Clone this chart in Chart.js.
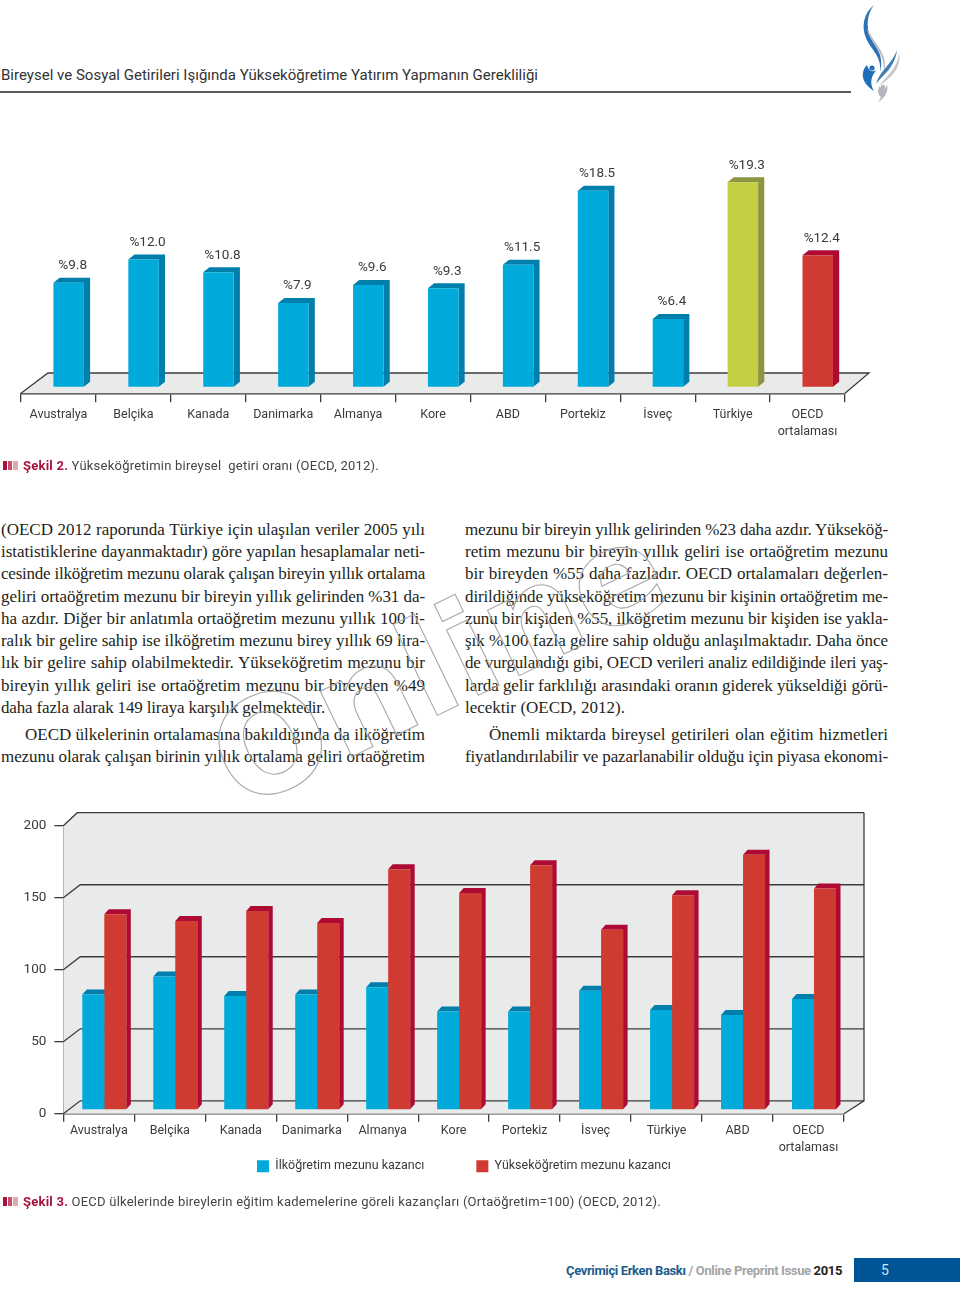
<!DOCTYPE html>
<html lang="tr">
<head>
<meta charset="utf-8">
<title>Şekil 2 ve Şekil 3</title>
<script src="https://cdn.jsdelivr.net/npm/chart.js@4/dist/chart.umd.min.js"></script>
<style>
html,body{margin:0;padding:0;background:#fff;}
#page{position:relative;width:960px;height:1289px;overflow:hidden;background:#fff;font-family:Roboto,sans-serif;color:#333;}
canvas{position:absolute;left:0;}
.t{position:absolute;white-space:pre;line-height:1;}
.b{font-family:"Liberation Serif",serif;font-size:17px;color:#231f20;}
.r{position:absolute;}
.cap{color:#444;font-size:13px;}
.cap b{color:#a8123e;font-weight:700;}
.f{font-size:13px;font-weight:700;}
svg{position:absolute;left:0;top:0;pointer-events:none;}
</style>
</head>
<body>
<div id="page">
  <svg width="960" height="130" viewBox="0 0 960 130">
    <path d="M874 5C864 13 861 26 866 38C871 50 882 56 880 72C885 54 874 46 870 36C866 26 867 14 874 5Z" fill="#2a72b5"/>
    <path d="M867 28C868 42 885 50 884 72C889 54 874 44 867 28Z" fill="#b9bcc0"/>
    <path d="M867 65C861 71 860 82 874 91C869 83 871 75 879 67C875 73 869 73 867 65Z" fill="#1f6fb8"/>
    <circle cx="872" cy="68" r="2.6" fill="#1f6fb8"/>
    <path d="M897 50C893 63 880 70 876 84C884 74 895 67 897 50Z" fill="#3f7fb5"/>
    <path d="M899 52C899 66 887 76 879 86C891 78 902 68 899 52Z" fill="#c4c7ca"/>
    <path d="M880 86C876 91 879 96 881 97C880 99 879 101 878 102C884 99 889 92 887 84C886 90 882 91 880 86Z" fill="#b3b6ba"/>
    <circle cx="883" cy="87" r="2.2" fill="#b3b6ba"/>
  </svg>
  <div class="t" data-w="537" style="left:1px;top:68px;font-size:15px;color:#333;">Bireysel ve Sosyal Getirileri Işığında Yükseköğretime Yatırım Yapmanın Gerekliliği</div>
  <div class="r" style="left:0;top:91px;width:851px;height:2px;background:#5a5a5a;"></div>

  <canvas id="c1" width="960" height="340" style="top:120px;width:960px;height:340px;"></canvas>

  <div class="r" style="left:3px;top:461px;width:4px;height:9px;background:#a8123e;"></div>
  <div class="r" style="left:8px;top:461px;width:4px;height:9px;background:#c4506c;"></div>
  <div class="r" style="left:13px;top:461px;width:5px;height:9px;background:#e4a9ae;"></div>
  <div class="t cap" data-w="356" style="left:23px;top:459px;"><b>Şekil 2.</b> Yükseköğretimin bireysel  getiri oranı (OECD, 2012).</div>

  <div id="body"></div>

  <svg width="960" height="800" viewBox="0 0 960 800" style="z-index:3;">
    <text transform="translate(240.4,811) rotate(-25.9)" font-family="DejaVu Sans" font-weight="700" font-size="133" fill="none" stroke="#a9a9a9" stroke-width="1.1">Online</text>
  </svg>

  <canvas id="c2" width="960" height="460" style="top:790px;width:960px;height:460px;"></canvas>

  <div class="r" style="left:3px;top:1197px;width:4px;height:9px;background:#a8123e;"></div>
  <div class="r" style="left:8px;top:1197px;width:4px;height:9px;background:#c4506c;"></div>
  <div class="r" style="left:13px;top:1197px;width:5px;height:9px;background:#e4a9ae;"></div>
  <div class="t cap" data-w="638" style="left:23px;top:1195px;"><b>Şekil 3.</b> OECD ülkelerinde bireylerin eğitim kademelerine göreli kazançları (Ortaöğretim=100) (OECD, 2012).</div>

  <div class="t f" data-w="276" style="left:566px;top:1264px;"><span style="color:#1d5c8c;">Çevrimiçi Erken Baskı</span><span style="color:#a3a5a7;"> / Online Preprint Issue </span><span style="color:#222;">2015</span></div>
  <div class="r" style="left:854px;top:1258px;width:106px;height:24px;background:#005596;"></div>
  <div class="t" style="left:881px;top:1263px;font-size:14px;color:#cfe0ee;">5</div>
</div>

<script>
// Şekil 2
const categoriesA = ["Avustralya","Belçika","Kanada","Danimarka","Almanya","Kore","ABD","Portekiz","İsveç","Türkiye",["OECD","ortalaması"]];
const returnRates = [9.8,12.0,10.8,7.9,9.6,9.3,11.5,18.5,6.4,19.3,12.4];

// Şekil 3
const categoriesB = ["Avustralya","Belçika","Kanada","Danimarka","Almanya","Kore","Portekiz","İsveç","Türkiye","ABD",["OECD","ortalaması"]];
const primaryLabel = "İlköğretim mezunu kazancı";
const tertiaryLabel = "Yükseköğretim mezunu kazancı";
const primaryEarnings = [80,92.6,79,80,85,68.2,68.2,82.6,69.3,65.8,77];
const tertiaryEarnings = [135.7,131,138,129.6,167,150.5,169.7,125,149,177,153.6];
const tickValuesB = [0,50,100,150,200];

const leftLines = [
"(OECD 2012 raporunda Türkiye için ulaşılan veriler 2005 yılı",
"istatistiklerine dayanmaktadır) göre yapılan hesaplamalar neti-",
"cesinde ilköğretim mezunu olarak çalışan bireyin yıllık ortalama",
"geliri ortaöğretim mezunu bir bireyin yıllık gelirinden %31 da-",
"ha azdır. Diğer bir anlatımla ortaöğretim mezunu yıllık 100 li-",
"ralık bir gelire sahip ise ilköğretim mezunu birey yıllık 69 lira-",
"lık bir gelire sahip olabilmektedir. Yükseköğretim mezunu bir",
"bireyin yıllık geliri ise ortaöğretim mezunu bir bireyden %49",
"daha fazla alarak 149 liraya karşılık gelmektedir.",
"OECD ülkelerinin ortalamasına bakıldığında da ilköğretim",
"mezunu olarak çalışan birinin yıllık ortalama geliri ortaöğretim"];
const rightLines = [
"mezunu bir bireyin yıllık gelirinden %23 daha azdır. Yükseköğ-",
"retim mezunu bir bireyin yıllık geliri ise ortaöğretim mezunu",
"bir bireyden %55 daha fazladır. OECD ortalamaları değerlen-",
"dirildiğinde yükseköğretim mezunu bir kişinin ortaöğretim me-",
"zunu bir kişiden %55, ilköğretim mezunu bir kişiden ise yakla-",
"şık %100 fazla gelire sahip olduğu anlaşılmaktadır. Daha önce",
"de vurgulandığı gibi, OECD verileri analiz edildiğinde ileri yaş-",
"larda gelir farklılığı arasındaki oranın giderek yükseldiği görü-",
"lecektir (OECD, 2012).",
"Önemli miktarda bireysel getirileri olan eğitim hizmetleri",
"fiyatlandırılabilir ve pazarlanabilir olduğu için piyasa ekonomi-"];

const UI_FONT = 'Roboto, sans-serif';
const INK = "#3a3a3a", LINE = "#3c3c3c", WALL = "#e9eaea";
const BLUE="#00abdb", BLUE_D="#007fac", RED="#cf3b31", RED_D="#ae0a33", GREEN="#c4ce45", GREEN_D="#8c9440";
const sideOf = c => c===BLUE?BLUE_D : c===RED?RED_D : GREEN_D;

// Fit text lines to the column widths of the printed page
function fitWidth(el,w){
  el.style.display="inline-block";
  const natural = el.getBoundingClientRect().width;
  const txt = el.textContent, gaps=(txt.match(/ /g)||[]).length;
  if(natural>w){ el.style.letterSpacing=((w-natural)/txt.length)+"px"; }
  else if(el.classList.contains("b") && gaps){ el.style.wordSpacing=((w-natural)/gaps)+"px"; }
  else { el.style.letterSpacing=((w-natural)/txt.length)+"px"; }
}
function addLines(lines,x,right,rowsY,lastShort,indent){
  const host=document.getElementById("body");
  lines.forEach((s,i)=>{
    const d=document.createElement("div");
    d.className="t b"; d.textContent=s;
    const left = i===9 ? indent : x;
    d.style.left=left+"px"; d.style.top=(rowsY[i]-9)+"px";
    host.appendChild(d);
    fitWidth(d, i===8 ? lastShort-left : right-left);
  });
}
const rowsY=[530,552.3,574.3,596.7,619,641,663.3,685.7,707.7,735,757.3];
addLines(leftLines,1,425,rowsY,325,25);
addLines(rightLines,465,888,rowsY,625,489);
document.querySelectorAll(".t[data-w]").forEach(el=>fitWidth(el,+el.dataset.w));

// Draws the printed pseudo-3D look around the library's own bars
const depthPlugin = {
  id:"depth",
  afterDatasetsUpdate(chart,args,o){
    chart.data.datasets.forEach((ds,i)=>{
      chart.getDatasetMeta(i).data.forEach(el=>{
        el.x+=o.shiftX; el.y-=o.shiftY; el.base-=o.shiftY;
      });
    });
  },
  beforeDatasetsDraw(chart,args,o){
    const {ctx,chartArea:a,scales:{y}}=chart;
    ctx.save();
    if(o.room==="floor"){
      ctx.beginPath();
      ctx.moveTo(a.left,a.bottom); ctx.lineTo(a.left+o.roomX,a.bottom-o.roomY);
      ctx.lineTo(a.right+o.roomXR,a.bottom-o.roomY); ctx.lineTo(a.right,a.bottom); ctx.closePath();
      ctx.fillStyle=WALL; ctx.fill();
      ctx.strokeStyle=LINE; ctx.lineWidth=1.3;
      ctx.beginPath();
      ctx.moveTo(a.left,a.bottom); ctx.lineTo(a.left+o.roomX,a.bottom-o.roomY);
      ctx.lineTo(a.right+o.roomXR,a.bottom-o.roomY); ctx.lineTo(a.right,a.bottom); ctx.stroke();
    } else {
      const bx=a.right+o.roomXR, by0=a.bottom-o.roomY;
      ctx.beginPath();
      ctx.moveTo(a.left,a.top); ctx.lineTo(a.left+14,a.top-o.roomY);
      ctx.lineTo(bx,a.top-o.roomY); ctx.lineTo(bx,by0); ctx.lineTo(a.right,a.bottom); ctx.lineTo(a.left,a.bottom); ctx.closePath();
      ctx.fillStyle=WALL; ctx.fill();
      ctx.strokeStyle=LINE; ctx.lineWidth=1.3;
      y.ticks.forEach(t=>{
        const py=y.getPixelForValue(t.value);
        const dx=t.value===y.max?14:o.roomX;
        ctx.beginPath(); ctx.moveTo(a.left,py); ctx.lineTo(a.left+dx,py-o.roomY); ctx.lineTo(bx,py-o.roomY); ctx.stroke();
      });
      ctx.beginPath(); ctx.moveTo(bx,a.top-o.roomY); ctx.lineTo(bx,by0); ctx.lineTo(a.right,a.bottom); ctx.stroke();
    }
    chart.data.datasets.forEach((ds,i)=>{
      chart.getDatasetMeta(i).data.forEach(el=>{
        const l=el.x-el.width/2, r=el.x+el.width/2, t=el.y, b=el.base;
        ctx.fillStyle=sideOf(el.options.backgroundColor);
        ctx.beginPath();
        ctx.moveTo(l,t); ctx.lineTo(l+o.dx,t-o.dy); ctx.lineTo(r+o.dx,t-o.dy);
        ctx.lineTo(r+o.dx,b-o.dy); ctx.lineTo(r,b); ctx.lineTo(r,t); ctx.closePath(); ctx.fill();
      });
    });
    ctx.restore();
  },
  afterDatasetsDraw(chart,args,o){
    if(!o.valueLabels) return;
    const {ctx}=chart;
    ctx.save();
    ctx.font='13.5px '+UI_FONT; ctx.fillStyle=INK; ctx.textAlign="center"; ctx.textBaseline="middle";
    chart.getDatasetMeta(0).data.forEach((el,i)=>{
      ctx.fillText("%"+returnRates[i].toFixed(1), el.x+4, el.y-17);
    });
    ctx.restore();
  }
};

// Places the library's legend where the page prints it
const legendPlace = {
  id:"legendPlace",
  afterLayout(chart,args,o){
    const L=chart.legend; if(!L) return;
    const pad=L.options.labels.padding, w=L.width, h=L.height;
    L.left=o.x-pad; L.right=L.left+w; L.top=o.y-pad; L.bottom=L.top+h;
  }
};

Chart.defaults.font.family=UI_FONT;
Chart.defaults.color=INK;

new Chart(document.getElementById("c1"),{
  type:"bar",
  data:{labels:categoriesA,datasets:[{
    label:"Yükseköğretimin bireysel getiri oranı",
    data:returnRates,
    backgroundColor:ctx=>ctx.dataIndex===9?GREEN:ctx.dataIndex===10?RED:BLUE,
    borderWidth:0,barPercentage:.407,categoryPercentage:1
  }]},
  plugins:[depthPlugin],
  options:{
    responsive:false,animation:false,
    layout:{autoPadding:false,padding:{left:21,right:115,top:19,bottom:6.7}},
    plugins:{legend:{display:false},tooltip:{enabled:false},
      depth:{shiftX:10.2,shiftY:6.6,dx:6.2,dy:5,room:"floor",roomX:27,roomXR:24,roomY:20.3,valueLabels:true}},
    scales:{
      y:{display:false,min:0,max:24},
      x:{
        afterFit(s){s.height=60;},
        border:{display:true,color:LINE,width:1.4},
        grid:{drawOnChartArea:false,drawTicks:true,tickLength:9,color:LINE,lineWidth:1.3},
        ticks:{autoSkip:false,maxRotation:0,minRotation:0,padding:3.5,color:INK,font:{size:12.5,lineHeight:1.39}}
      }
    }
  }
});

new Chart(document.getElementById("c2"),{
  type:"bar",
  data:{labels:categoriesB,datasets:[
    {label:primaryLabel,data:primaryEarnings,backgroundColor:BLUE,borderWidth:0,barPercentage:1,categoryPercentage:.62},
    {label:tertiaryLabel,data:tertiaryEarnings,backgroundColor:RED,borderWidth:0,barPercentage:1,categoryPercentage:.62}
  ]},
  plugins:[depthPlugin,legendPlace],
  options:{
    responsive:false,animation:false,
    layout:{autoPadding:false,padding:{left:0,right:116,top:35.7,bottom:1.7}},
    plugins:{
      tooltip:{enabled:false},
      legend:{display:true,position:"bottom",align:"start",
        labels:{boxWidth:12,boxHeight:12,padding:52,color:INK,font:{size:12.5}}},
      legendPlace:{x:257,y:370},
      depth:{shiftX:5.5,shiftY:4,dx:4.5,dy:5,room:"wall",roomX:17,roomXR:20,roomY:13,valueLabels:false}
    },
    scales:{
      y:{min:0,max:200,
        afterFit(s){s.width=63.3;},
        afterBuildTicks(s){s.ticks=tickValuesB.map(v=>({value:v}));},
        border:{display:true,color:LINE,width:1.4},
        grid:{drawOnChartArea:false,drawTicks:true,tickLength:9,color:LINE,lineWidth:1.3},
        ticks:{padding:8,color:INK,font:{size:13.5}}
      },
      x:{
        afterFit(s){s.height=60;},
        border:{display:true,color:LINE,width:1.4},
        grid:{drawOnChartArea:false,drawTicks:true,tickLength:8,color:LINE,lineWidth:1.3},
        ticks:{autoSkip:false,maxRotation:0,minRotation:0,padding:0,color:INK,font:{size:12.5,lineHeight:1.39}}
      }
    }
  }
});
</script>
</body>
</html>
